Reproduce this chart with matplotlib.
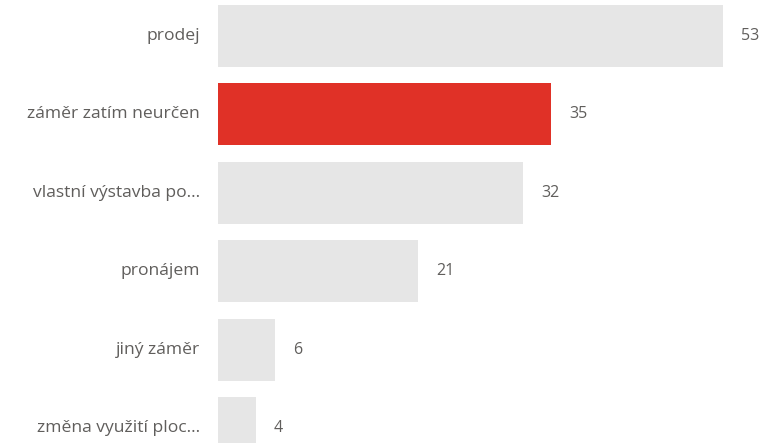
import matplotlib
matplotlib.use("Agg")
import matplotlib.pyplot as plt
from matplotlib import transforms

categories = ["prodej", "záměr zatím neurčen", "vlastní výstavba po...", "pronájem", "jiný záměr", "změna využití ploc..."]
values = [53, 35, 32, 21, 6, 4]
highlight = "záměr zatím neurčen"

W, H = 766, 443
fig = plt.figure(figsize=(W / 100, H / 100), dpi=100)
x0 = 218
ax = fig.add_axes([x0 / W, 0, (W - x0) / W, 1])
ax.set_axis_off()

px_per_unit = (723 - x0) / 53
pitch = 78.4
c0 = 36
ax.set_xlim(0, (W - x0) / px_per_unit)
ax.set_ylim((H - c0) / pitch, -c0 / pitch)

ys = list(range(len(categories)))
colors = ["#e03127" if c == highlight else "#e6e6e6" for c in categories]
ax.barh(ys, values, height=62 / pitch, color=colors, edgecolor="none")

font = dict(family=["Open Sans", "DejaVu Sans"], color="#605e5c")
lab_tr = transforms.offset_copy(ax.transData, fig=fig, x=-18, y=0, units="dots")
for y, c in zip(ys, categories):
    ax.text(0, y, c, transform=lab_tr, ha="right", va="center", clip_on=False, fontsize=12.6, **font)
val_tr = transforms.offset_copy(ax.transData, fig=fig, x=18, y=0, units="dots")
for y, v in zip(ys, values):
    ax.text(v, y, str(v), transform=val_tr, ha="left", va="center", clip_on=False, fontsize=11.5, **font)

fig.savefig("out.png", dpi=100)
